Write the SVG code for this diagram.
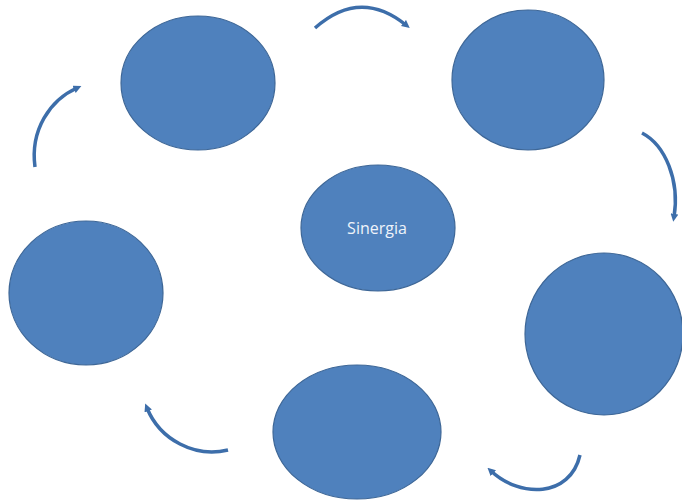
<svg xmlns="http://www.w3.org/2000/svg" width="682" height="500" viewBox="0 0 682 500">
<style>
.n{fill:#4F81BD;stroke:#3E6797;stroke-width:1.2}
.a{fill:none;stroke:#3D6EAA;stroke-width:3.5;stroke-linecap:butt}
.t{font-family:"Open Sans","Liberation Sans",sans-serif;font-size:16px;fill:#EEF3FA;text-anchor:middle}
</style>
<defs>
<marker id="h" viewBox="0 0 10 10" refX="4" refY="5" markerWidth="8" markerHeight="8" markerUnits="userSpaceOnUse" orient="auto">
<path d="M0,0 L10,5 L0,10 z" fill="#3D6EAA"/>
</marker>
</defs>
<rect width="682" height="500" fill="#FFFFFF"/>
<g id="node-top-left"><ellipse class="n" cx="198" cy="83" rx="77" ry="67"/></g>
<g id="node-top-right"><ellipse class="n" cx="528" cy="80" rx="76" ry="70"/></g>
<g id="node-center"><ellipse class="n" cx="378" cy="228" rx="77" ry="63"/><text class="t" x="377" y="234">Sinergia</text></g>
<g id="node-left"><ellipse class="n" cx="86" cy="293" rx="77" ry="72"/></g>
<g id="node-right"><ellipse class="n" cx="604" cy="334" rx="79" ry="81"/></g>
<g id="node-bottom"><ellipse class="n" cx="357" cy="432" rx="84" ry="67"/></g>
<g id="connectors">
<path class="a" d="M315,28 Q360,-12 406,25" marker-end="url(#h)"/>
<path class="a" d="M642,133 C665,145 680,180 674,217" marker-end="url(#h)"/>
<path class="a" d="M580,455 C570,498 520,498 491,471" marker-end="url(#h)"/>
<path class="a" d="M228,450 C195,458 160,440 147,408" marker-end="url(#h)"/>
<path class="a" d="M35,167 C30,130 50,100 77,88" marker-end="url(#h)"/>
</g>
</svg>
